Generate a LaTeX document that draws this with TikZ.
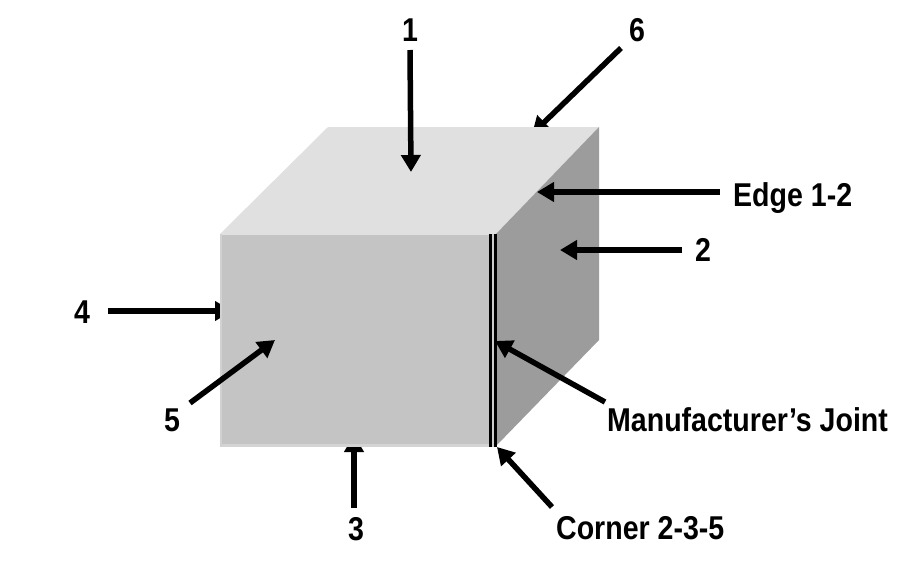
\documentclass[tikz,border=0pt]{standalone}
\usepackage{fontspec}
\setmainfont{Liberation Sans}
\usetikzlibrary{arrows.meta}
\tikzset{
  arr/.style={line width=5.5pt,-{Triangle[length=17pt,width=19pt]}},
  lab/.style={font=\fontsize{33}{33}\selectfont\bfseries,inner sep=0pt,xscale=0.865,transform shape=false},
}
\begin{document}
\begin{tikzpicture}[x=1pt,y=-1pt]
\useasboundingbox (0,0) rectangle (900,587);
\fill[white] (0,0) rectangle (900,587);
% labels
\node[lab] (l1) at (410,30) {1};
\node[lab] (l6) at (637,30) {6};
\node[lab,anchor=west] (le) at (733,198) {Edge 1-2};
\node[lab] (l2) at (703,250) {2};
\node[lab] (l4) at (82,312) {4};
\node[lab] (l5) at (172,420) {5};
\node[lab] (l3) at (356,529) {3};
\node[lab,anchor=west] (lm) at (607,420) {Manufacturer’s Joint};
\node[lab,anchor=west] (lc) at (556,528) {Corner 2-3-5};
% tips
\coordinate (t1) at (411,172);
\coordinate (t6) at (532,134);
\coordinate (te) at (537,192);
\coordinate (t2) at (560,250);
\coordinate (t4) at (232,311);
\coordinate (t5) at (275,340);
\coordinate (t3) at (354,435);
\coordinate (tm) at (495,341);
\coordinate (tc) at (497,447);
% arrows hidden behind the cube
\draw[arr] ([shift={(26pt,1pt)}]l4.center) -- (t4);
\draw[arr] ([shift={(-2pt,21pt)}]l3.center) -- (t3);
\draw[arr] ([shift={(-16pt,-18pt)}]l6.center) -- (t6);
% cube
\fill[black!12] (220,234) -- (328,127) -- (599,127) -- (495,235) -- cycle;
\fill[black!39] (495,235) -- (599,127) -- (599,340) -- (496,446) -- cycle;
\fill[black!23] (220,234) rectangle (489,447);
\fill[black!12] (220,234) rectangle (489,235);
\fill[black!17] (220,443.5) rectangle (489,447);
\fill[black!18] (220,234) rectangle (221.5,447);
\fill[black] (488.5,234) rectangle (491.5,447);
\fill[black!20] (491.5,234) rectangle (494,447);
\fill[black] (494,234) rectangle (497,447);
% arrows
\draw[arr] ([yshift=-20pt]l1.center) -- (t1);
\draw[arr] ([shift={(-13pt,6pt)}]le.west) -- (te);
\draw[arr] ([xshift=-21pt]l2.center) -- (t2);
\draw[arr] ([shift={(18pt,17pt)}]l5.center) -- (t5);
\draw[arr] ([shift={(-2pt,18pt)}]lm.west) -- (tm);
\draw[arr] ([shift={(-4pt,21pt)}]lc.west) -- (tc);
\end{tikzpicture}
\end{document}
